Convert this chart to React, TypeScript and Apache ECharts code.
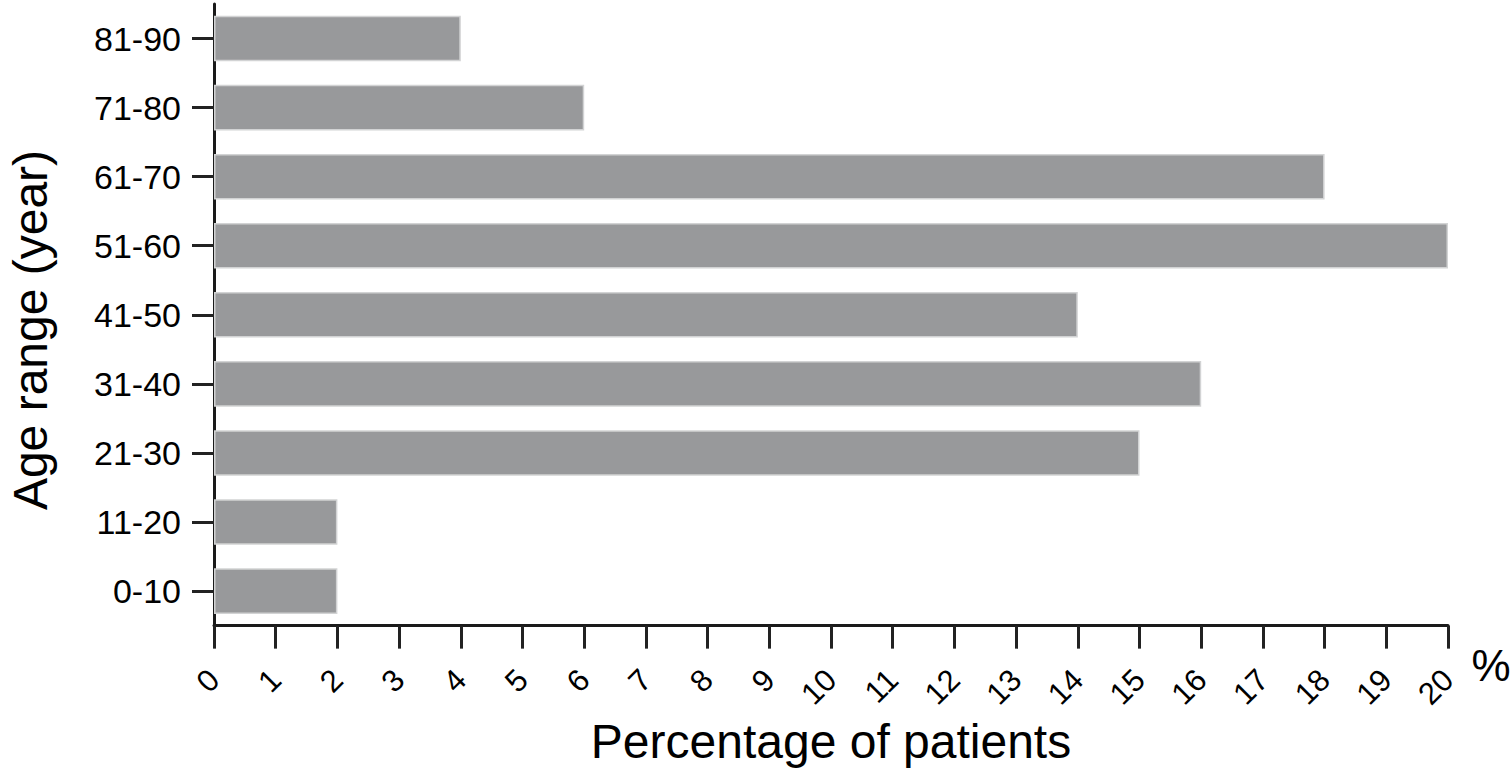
import React, { useEffect, useRef } from "react";
import * as echarts from "echarts";

const categories = ["0-10", "11-20", "21-30", "31-40", "41-50", "51-60", "61-70", "71-80", "81-90"];
const percentages = [2, 2, 15, 16, 14, 20, 18, 6, 4];
const xMin = 0;
const xMax = 20;
const xInterval = 1;
const xTitle = "Percentage of patients";
const yTitle = "Age range (year)";
const unitLabel = "%";

export default function App() {
  const ref = useRef<HTMLDivElement>(null);
  useEffect(() => {
    if (!ref.current) return;
    const chart = echarts.init(ref.current, null, { renderer: "svg" });
    const font = "'Liberation Sans', Arial, Helvetica, sans-serif";
    chart.setOption({
      animation: false,
      textStyle: { fontFamily: font, color: "#000" },
      grid: { left: 214, right: 64, top: 4, bottom: 140, containLabel: false },
      xAxis: {
        type: "value",
        min: xMin,
        max: xMax,
        interval: xInterval,
        name: xTitle,
        nameLocation: "middle",
        nameGap: 91,
        nameTextStyle: { fontSize: 48, color: "#000", fontFamily: font },
        axisLine: { show: true, lineStyle: { color: "#1a1a1a", width: 3 } },
        axisTick: { show: true, length: 23, inside: false, lineStyle: { color: "#222", width: 3 } },
        axisLabel: { fontSize: 31, color: "#000", rotate: 45, margin: 49, fontFamily: font },
        splitLine: { show: false },
      },
      yAxis: {
        type: "category",
        data: categories,
        axisLine: { show: true, lineStyle: { color: "#1a1a1a", width: 3 } },
        axisTick: { show: true, alignWithLabel: true, length: 22, lineStyle: { color: "#222", width: 3 } },
        axisLabel: { fontSize: 34, color: "#000", margin: 33, fontFamily: font },
        splitLine: { show: false },
      },
      graphic: [
        {
          type: "text",
          x: 30,
          y: 330,
          rotation: Math.PI / 2,
          style: { text: yTitle, fill: "#000", font: `48px ${font}`, align: "center", verticalAlign: "middle" },
        },
        {
          type: "text",
          x: 1491,
          y: 665,
          style: { text: unitLabel, fill: "#000", font: `44px ${font}`, align: "center", verticalAlign: "middle" },
        },
      ],
      series: [
        {
          type: "bar",
          data: percentages,
          barCategoryGap: "34%",
          itemStyle: { color: "#98999b", borderColor: "#d2d3d4", borderWidth: 1.5 },
        },
      ],
    });
    return () => chart.dispose();
  }, []);
  return <div ref={ref} style={{ position: "fixed", left: 0, top: 0, width: 1512, height: 770, background: "#fff" }} />;
}
